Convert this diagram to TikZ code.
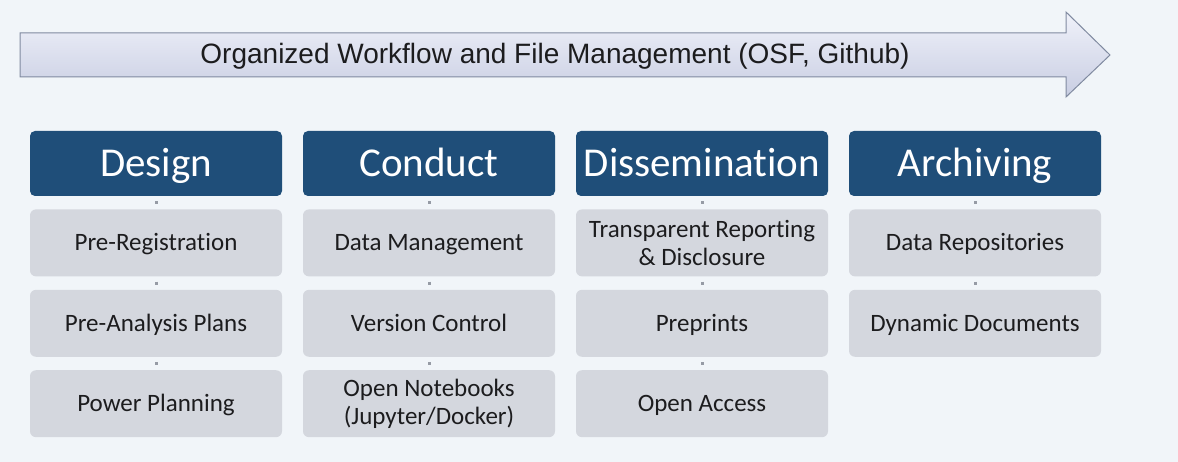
\documentclass[tikz,border=0pt]{standalone}
\usepackage{fontspec}
\setmainfont{Carlito}[Ligatures=NoCommon]
\newfontfamily\arialfont{Liberation Sans}
\usetikzlibrary{positioning}

\definecolor{bgcolor}{RGB}{241,245,249}
\definecolor{hdrblue}{RGB}{31,78,121}
\definecolor{itemgray}{RGB}{212,215,222}
\definecolor{itemtext}{RGB}{28,28,30}
\definecolor{linkgray}{RGB}{150,155,165}
\definecolor{arrowtop}{RGB}{240,242,250}
\definecolor{arrowbot}{RGB}{200,205,226}
\definecolor{arrowline}{RGB}{128,138,160}

\tikzset{
    phasebox/.style={fill=hdrblue, text=white, rounded corners=5pt, inner sep=0pt,
        minimum width=252pt, minimum height=65pt, text height=26.5pt, text depth=0pt,
        font=\fontsize{41}{44}\selectfont},
    itembox/.style={fill=itemgray, text=itemtext, rounded corners=6pt, inner sep=0pt,
        minimum width=252pt, minimum height=67pt, align=center,
        font=\fontsize{25}{28}\selectfont},
    itemline/.style={itembox, text height=16pt, text depth=0pt},
    linkline/.style={draw=linkgray, line width=3pt, shorten >=5pt, shorten <=5pt}
}

\begin{document}
\begin{tikzpicture}[x=1pt, y=-1pt]
    \fill[bgcolor] (0,0) rectangle (1178,462);
    \useasboundingbox (0,0) rectangle (1178,462);

    % workflow arrow
    \shade[top color=arrowtop, bottom color=arrowbot, draw=arrowline, line width=1pt]
        (20,33) -- (1066,33) -- (1066,12) -- (1110,55) -- (1066,97) -- (1066,77) -- (20,77) -- cycle;
    \node[font=\arialfont\fontsize{28}{30}\selectfont, text=itemtext] (workflow) at (555,56)
        {Organized Workflow and File Management (OSF, Github)};

    % phases
    \node[phasebox] (design) at (156,163.5) {Design};
    \node[phasebox] (conduct) at (429,163.5) {Conduct};
    \node[phasebox] (dissem) at (702,163.5) {Dissemination};
    \node[phasebox] (archiv) at (975,163.5) {Archiving};

    % design
    \node[itemline, below=13pt of design] (prereg) {Pre-Registration};
    \node[itemline, below=13pt of prereg] (preplan) {Pre-Analysis Plans};
    \node[itemline, below=13pt of preplan] (power) {Power Planning};

    % conduct
    \node[itemline, below=13pt of conduct] (datamgmt) {Data Management};
    \node[itemline, below=13pt of datamgmt] (version) {Version Control};
    \node[itembox, below=13pt of version] (notebooks) {Open Notebooks\\(Jupyter/Docker)};

    % dissemination
    \node[itembox, below=13pt of dissem] (report) {Transparent Reporting\\\& Disclosure};
    \node[itemline, below=13pt of report] (preprint) {Preprints};
    \node[itemline, below=13pt of preprint] (openacc) {Open Access};

    % archiving
    \node[itemline, below=13pt of archiv] (repos) {Data Repositories};
    \node[itemline, below=13pt of repos] (dyndocs) {Dynamic Documents};

    \draw[linkline] (design) -- (prereg);
    \draw[linkline] (prereg) -- (preplan);
    \draw[linkline] (preplan) -- (power);

    \draw[linkline] (conduct) -- (datamgmt);
    \draw[linkline] (datamgmt) -- (version);
    \draw[linkline] (version) -- (notebooks);

    \draw[linkline] (dissem) -- (report);
    \draw[linkline] (report) -- (preprint);
    \draw[linkline] (preprint) -- (openacc);

    \draw[linkline] (archiv) -- (repos);
    \draw[linkline] (repos) -- (dyndocs);

\end{tikzpicture}
\end{document}
